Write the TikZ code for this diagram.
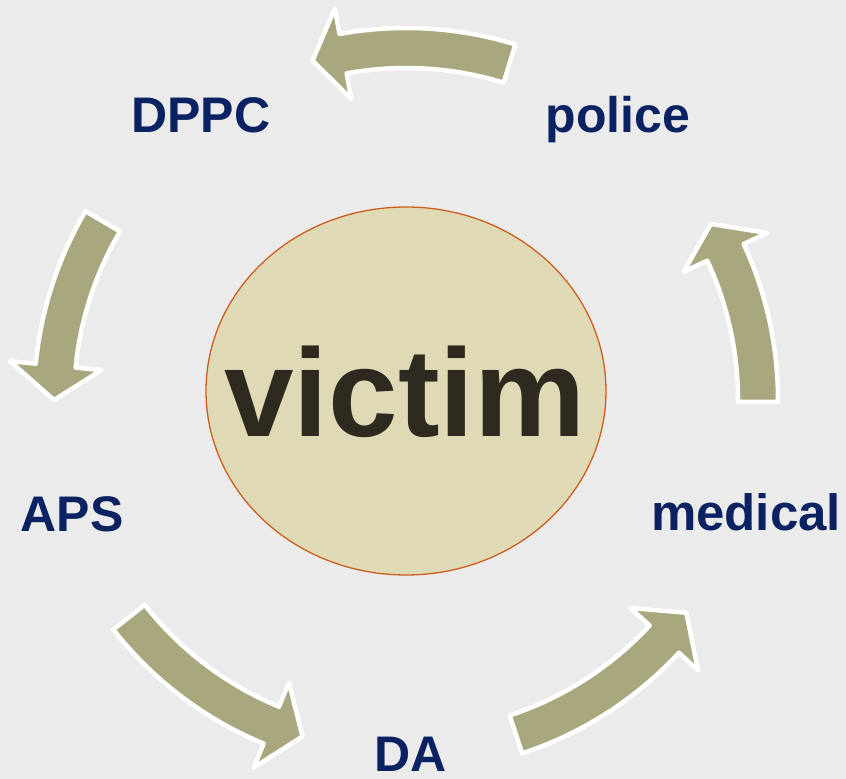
\documentclass[tikz,border=0pt]{standalone}
\usepackage{fontspec}
\setmainfont{Liberation Sans}
\usetikzlibrary{shapes.geometric}
\definecolor{bgc}{HTML}{EBEBEB}
\definecolor{arrowc}{HTML}{A9A77E}
\definecolor{navy}{HTML}{0B2262}
\definecolor{circfill}{HTML}{DFDAB5}
\definecolor{circline}{HTML}{CC5F1E}
\definecolor{victimc}{HTML}{2E2A20}
\tikzset{
  blockarrow/.style={fill=arrowc, draw=white, line width=4.5pt, line join=round},
  lbl/.style={text=navy, font=\fontsize{50}{60}\selectfont\bfseries, inner sep=0pt, anchor=base},
}
% #1 tail angle, #2 head base angle, #3 tip angle
\newcommand{\curvedarrow}[3]{%
  \path[blockarrow] (#1:372pt) arc[start angle=#1, end angle=#2, radius=372pt]
    -- (#2:398pt) -- (#3:352pt) -- (#2:306pt) -- (#2:332pt)
    arc[start angle=#2, end angle=#1, radius=332pt] -- cycle;}
\begin{document}
\begin{tikzpicture}[x=1pt,y=1pt]
\fill[bgc] (0,0) rectangle (846,779);
\useasboundingbox (0,0) rectangle (846,779);
% central circle
\node[ellipse, draw=circline, fill=circfill, line width=1.3pt, minimum width=400pt, minimum height=368pt, inner sep=0pt] (victim) at (406,388) {};
\node[text=victimc, font=\fontsize{125}{140}\selectfont\bfseries, inner sep=0pt, anchor=base] (victimtxt) at (405,342) {victim};
% labels
\node[lbl] (dppc) at (201,646) {DPPC};
\node[lbl] (police) at (618,646) {police};
\node[lbl] (aps) at (72,247) {APS};
\node[lbl, font=\fontsize{51}{60}\selectfont\bfseries] (medical) at (746,248) {medical};
\node[lbl, text depth=0pt] (da) at (411,7) {DA};
% arrows on a ring around the centre
\begin{scope}[shift={(406,379)}]
  \curvedarrow{72.9}{100.3}{105.4}
  \curvedarrow{149.5}{174.4}{180}
  \curvedarrow{218.1}{247.5}{252.9}
  \curvedarrow{288.2}{317.2}{322.8}
  \curvedarrow{-0.3}{24.8}{30}
\end{scope}
\end{tikzpicture}
\end{document}
